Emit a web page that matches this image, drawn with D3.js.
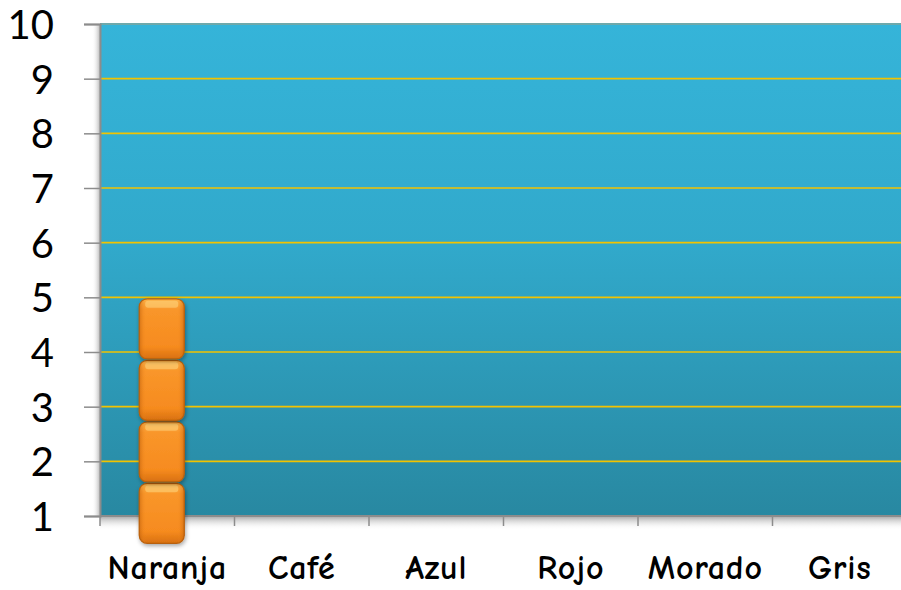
<!DOCTYPE html>
<html><head><meta charset="utf-8">
<script src="https://cdn.jsdelivr.net/npm/d3@7"></script>
<style>body{margin:0;background:#fff;overflow:hidden}</style>
</head><body>
<script>
// ---- data ----
const categorias = ["Naranja", "Café", "Azul", "Rojo", "Morado", "Gris"];
const valores = [5, 0, 0, 0, 0, 0];      // top of each stack (axis units)
const bloques = [4, 0, 0, 0, 0, 0];      // number of stacked picture blocks
const yTicks = [1, 2, 3, 4, 5, 6, 7, 8, 9, 10];
const baseValor = 0.5;                   // stacks start just below the axis floor

const W = 901, H = 590;
const m = {left: 100, right: -6, top: 24, bottom: 74};

const svg = d3.select("body").append("svg").attr("width", W).attr("height", H);
const defs = svg.append("defs");

const x = d3.scaleBand().domain(categorias).range([m.left, W - m.right]);
const y = d3.scaleLinear().domain([1, 10]).range([H - m.bottom, m.top]);

// gradients
const bg = defs.append("linearGradient").attr("id", "bg").attr("x1", 0).attr("y1", 0).attr("x2", 0).attr("y2", 1);
bg.append("stop").attr("offset", "0%").attr("stop-color", "#35b4d9");
bg.append("stop").attr("offset", "45%").attr("stop-color", "#31a9cb");
bg.append("stop").attr("offset", "100%").attr("stop-color", "#2888a1");

const sh = defs.append("linearGradient").attr("id", "shb").attr("x1", 0).attr("y1", 0).attr("x2", 0).attr("y2", 1);
sh.append("stop").attr("offset", "0%").attr("stop-color", "#9a9a9a").attr("stop-opacity", 0.9);
sh.append("stop").attr("offset", "100%").attr("stop-color", "#ffffff").attr("stop-opacity", 0);
const shl = defs.append("linearGradient").attr("id", "shl").attr("x1", 1).attr("y1", 0).attr("x2", 0).attr("y2", 0);
shl.append("stop").attr("offset", "0%").attr("stop-color", "#9a9a9a").attr("stop-opacity", 0.7);
shl.append("stop").attr("offset", "100%").attr("stop-color", "#ffffff").attr("stop-opacity", 0);

const og = defs.append("linearGradient").attr("id", "og").attr("x1", 0).attr("y1", 0).attr("x2", 0).attr("y2", 1);
og.append("stop").attr("offset", "0%").attr("stop-color", "#fbb34a");
og.append("stop").attr("offset", "18%").attr("stop-color", "#f9962a");
og.append("stop").attr("offset", "80%").attr("stop-color", "#f68b1f");
og.append("stop").attr("offset", "100%").attr("stop-color", "#d8700f");
const oh = defs.append("linearGradient").attr("id", "oh").attr("x1", 0).attr("y1", 0).attr("x2", 1).attr("y2", 0);
oh.append("stop").attr("offset", "0%").attr("stop-color", "#b85a08").attr("stop-opacity", 0.55);
oh.append("stop").attr("offset", "15%").attr("stop-color", "#f68b1f").attr("stop-opacity", 0);
oh.append("stop").attr("offset", "85%").attr("stop-color", "#f68b1f").attr("stop-opacity", 0);
oh.append("stop").attr("offset", "100%").attr("stop-color", "#b85a08").attr("stop-opacity", 0.55);

const f = defs.append("filter").attr("id", "ds").attr("x", "-30%").attr("y", "-30%").attr("width", "160%").attr("height", "160%");
f.append("feDropShadow").attr("dx", 1).attr("dy", 2).attr("stdDeviation", 2).attr("flood-color", "#000").attr("flood-opacity", 0.35);

const plotL = m.left, plotR = W - m.right, plotT = y(10), plotB = y(1);

// shadows
svg.append("rect").attr("x", plotL).attr("y", plotB).attr("width", plotR - plotL).attr("height", 14).attr("fill", "url(#shb)");
svg.append("rect").attr("x", plotL - 8).attr("y", plotT).attr("width", 8).attr("height", plotB - plotT).attr("fill", "url(#shl)");

// plot background
svg.append("rect").attr("x", plotL).attr("y", plotT).attr("width", plotR - plotL).attr("height", plotB - plotT).attr("fill", "url(#bg)");

// gridlines
svg.append("g").selectAll("line").data(yTicks.filter(d => d > 1 && d < 10)).join("line")
  .attr("x1", plotL).attr("x2", plotR).attr("y1", d => y(d)).attr("y2", d => y(d))
  .attr("stroke", "#f2c300").attr("stroke-width", 1.6);
svg.append("line").attr("x1", plotL).attr("x2", plotR).attr("y1", y(10)).attr("y2", y(10))
  .attr("stroke", "#6ea9ab").attr("stroke-width", 2);

// y axis
const yAxis = d3.axisLeft(y).tickValues(yTicks).tickSize(16).tickPadding(30).tickFormat(d3.format("d"));
const ga = svg.append("g").attr("transform", `translate(${plotL},0)`).call(yAxis);
ga.select(".domain").attr("stroke", "#8c8c8c").attr("stroke-width", 2);
ga.selectAll(".tick line").attr("stroke", "#8c8c8c").attr("stroke-width", 1.5);
ga.selectAll(".tick text").attr("font-family", "Lato, 'Open Sans', sans-serif").attr("font-size", 40)
  .attr("fill", "#000").attr("dy", "0.36em");

// x axis
const gx = svg.append("g").attr("transform", `translate(0,${plotB})`);
gx.append("line").attr("x1", plotL).attr("x2", plotR).attr("stroke", "#8c8c8c").attr("stroke-width", 2);
gx.selectAll("line.t").data(categorias).join("line").attr("class", "t")
  .attr("x1", d => x(d)).attr("x2", d => x(d)).attr("y1", 0).attr("y2", 10)
  .attr("stroke", "#8c8c8c").attr("stroke-width", 1.5);
gx.selectAll("text").data(categorias).join("text")
  .attr("x", d => x(d) + x.bandwidth() / 2).attr("y", 63)
  .attr("text-anchor", "middle")
  .attr("font-family", "'Comic Sans MS', 'Comic Neue', Lato, 'Noto Sans', sans-serif")
  .attr("font-size", 34).attr("font-weight", 600).attr("letter-spacing", 0.8).attr("fill", "#000")
  .text(d => d);

// stacked picture blocks
const bw = x.bandwidth() * 0.335;
const blockData = [];
categorias.forEach((c, i) => {
  const n = bloques[i];
  if (!n) return;
  const top = y(valores[i]), bottom = y(baseValor);
  const h = (bottom - top) / n;
  for (let k = 0; k < n; k++) {
    blockData.push({c, x: x(c) + x.bandwidth() / 2 - bw / 2 - 5.5, y: top + k * h + 1.5, h: h - 1.5});
  }
});
blockData.reverse();
const gb = svg.append("g").selectAll("g").data(blockData).join("g");
gb.append("rect").attr("x", d => d.x).attr("y", d => d.y).attr("width", bw).attr("height", d => d.h)
  .attr("rx", 8).attr("fill", "url(#og)").attr("stroke", "#b8600c").attr("stroke-width", 1.2).attr("filter", "url(#ds)");
gb.append("rect").attr("x", d => d.x).attr("y", d => d.y).attr("width", bw).attr("height", d => d.h)
  .attr("rx", 8).attr("fill", "url(#oh)");
gb.append("rect").attr("x", d => d.x + 6).attr("y", d => d.y + 2).attr("width", bw - 12).attr("height", 7)
  .attr("rx", 3).attr("fill", "#fdd27a").attr("opacity", 0.6);
</script>
</body></html>
